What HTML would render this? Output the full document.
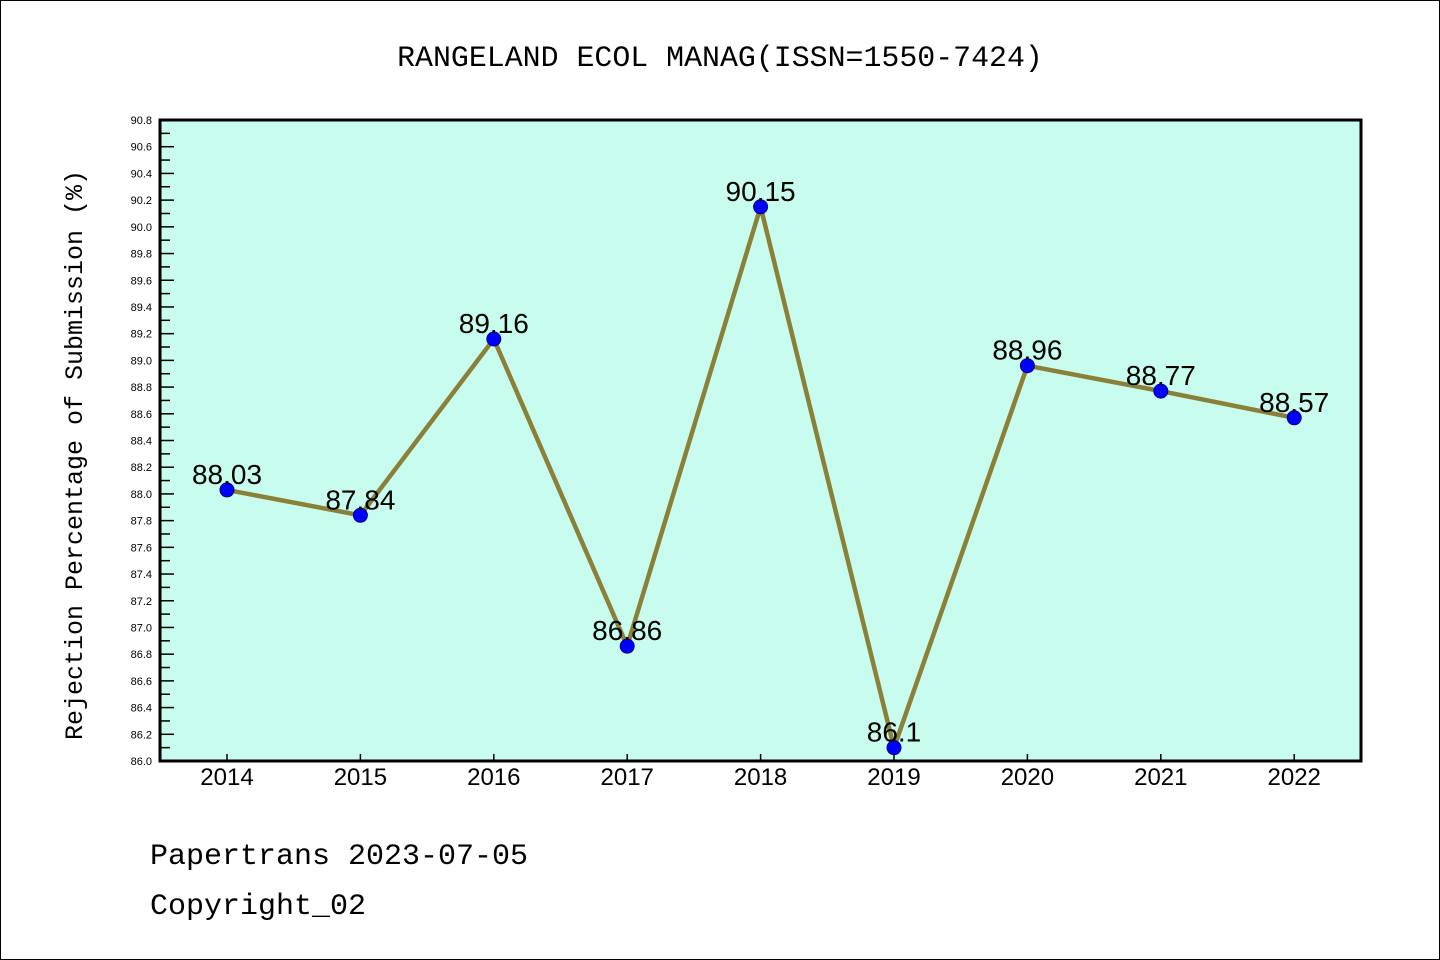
<!DOCTYPE html>
<html><head><meta charset="utf-8"><style>
body{margin:0;background:#fff;}
svg{display:block;font-family:"Liberation Mono","DejaVu Sans Mono",monospace;}
</style></head><body>
<svg width="1440" height="960">
<rect x="0.5" y="0.5" width="1439" height="959" fill="#fff" stroke="#000"/>
<text x="720" y="66" text-anchor="middle" font-size="29.9">RANGELAND ECOL MANAG(ISSN=1550-7424)</text>
<rect x="160" y="120" width="1201" height="641" fill="#c7fcee"/>
<g id="yt"></g>
<g id="xt"></g>
<g id="series"></g>
<rect x="160" y="120" width="1201" height="641" fill="none" stroke="#000" stroke-width="3"/>
<text transform="translate(82,455) rotate(-90)" text-anchor="middle" font-size="25">Rejection Percentage of Submission (%)</text>
<text x="150" y="864" font-size="30">Papertrans 2023-07-05</text>
<text x="150" y="914" font-size="30">Copyright_02</text>
</svg>
<script>
const years=["2014","2015","2016","2017","2018","2019","2020","2021","2022"];
const values=[88.03,87.84,89.16,86.86,90.15,86.1,88.96,88.77,88.57];
const labels=["88.03","87.84","89.16","86.86","90.15","86.1","88.96","88.77","88.57"];
const yMin=86.0,yMax=90.8;
const NS="http://www.w3.org/2000/svg";
function yS(v){return 761-(v-yMin)/(yMax-yMin)*641;}
function xS(i){return 227+i*133.4;}
function mk(t,a,p){const e=document.createElementNS(NS,t);for(const k in a)e.setAttribute(k,a[k]);p.appendChild(e);return e;}
const yt=document.getElementById('yt');
for(let k=0;k<=48;k++){const v=yMin+k*0.1,y=yS(v),maj=k%2==0;
 const l=mk('line',{x1:160,x2:160+(maj?14:10),y1:y,y2:y,stroke:'#000','stroke-width':1.5},yt);
 
 
 if(maj){const t=mk('text',{x:152,y:y+4,'text-anchor':'end','font-size':11,'font-family':'Liberation Sans, sans-serif'},yt);t.textContent=v.toFixed(1);
 
 }}
const xt=document.getElementById('xt');
years.forEach((yr,i)=>{const x=xS(i);
 const l=mk('line',{x1:x,x2:x,y1:761,y2:754,stroke:'#000','stroke-width':1.5},xt);
 
 
 const t=mk('text',{x:x,y:785,'text-anchor':'middle','font-size':24,'font-family':'Liberation Sans, sans-serif'},xt);t.textContent=yr;
 
 });
const s=document.getElementById('series');
const pl=mk('polyline',{points:values.map((v,i)=>xS(i)+','+yS(v)).join(' '),fill:'none',stroke:'#8b8038','stroke-width':4.5},s);


values.forEach((v,i)=>{const c=mk('circle',{cx:xS(i),cy:yS(v),r:7,fill:'#0000ff',stroke:'#00008b','stroke-width':1},s);
 
 
 const t=mk('text',{x:xS(i),y:yS(v)-6,'text-anchor':'middle','font-size':28,'font-family':'Liberation Sans, sans-serif'},s);t.textContent=labels[i];
 
 });
</script>
</body></html>
